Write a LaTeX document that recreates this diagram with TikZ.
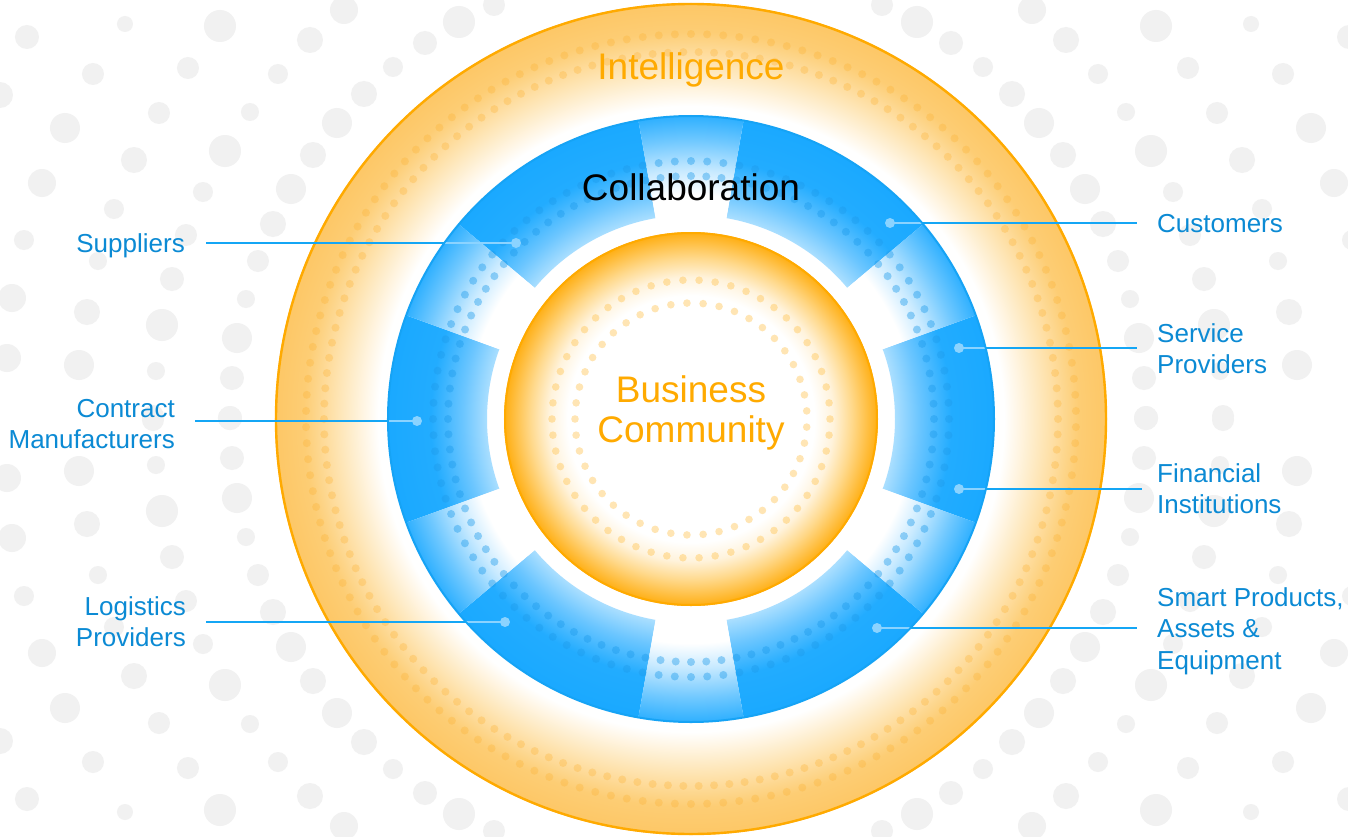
\documentclass[tikz,border=0pt]{standalone}
\usepackage{fontspec}
\setmainfont{Liberation Sans}
\definecolor{bgdot}{HTML}{F1F1F1}
\definecolor{ringor}{HTML}{FDC766}
\definecolor{ringor2}{HTML}{FDCD74}
\definecolor{ringpale}{HTML}{FEE4B2}
\definecolor{orline}{HTML}{FFAA00}
\definecolor{inor}{HTML}{FFAE12}
\definecolor{inmid}{HTML}{FFD98C}
\definecolor{inpale}{HTML}{FFF3DC}
\definecolor{bdark}{HTML}{1AA9FF}
\definecolor{bdark2}{HTML}{22ACFF}
\definecolor{bmid}{HTML}{6CC6FF}
\definecolor{blight}{HTML}{ABDFFF}
\definecolor{lout}{HTML}{2FB0FF}
\definecolor{lmid}{HTML}{6FC8FF}
\definecolor{lpale}{HTML}{C8EAFF}
\definecolor{bline}{HTML}{16A3F5}
\definecolor{bluedotc}{HTML}{1E9BEB}
\definecolor{ordotc}{HTML}{FBB030}
\definecolor{indotc}{HTML}{FFC045}
\definecolor{labelc}{HTML}{0B8AD4}
\definecolor{connc}{HTML}{14A6F5}
\definecolor{connl}{HTML}{8BD3FF}
\definecolor{txtor}{HTML}{FFAA00}
\pgfdeclareradialshading{outerring}{\pgfpoint{0bp}{0bp}}{color(0bp)=(white); color(18.8bp)=(white); color(21.3bp)=(ringpale); color(23.3bp)=(ringor2); color(25bp)=(ringor); color(50bp)=(ringor)}
\pgfdeclareradialshading{innerdisk}{\pgfpoint{0bp}{0bp}}{color(0bp)=(white); color(16.5bp)=(white); color(19bp)=(inpale); color(21.5bp)=(inmid); color(25bp)=(inor); color(50bp)=(inor)}
\pgfdeclareradialshading{bluedark}{\pgfpoint{0bp}{0bp}}{color(0bp)=(blight); color(16.8bp)=(blight); color(18.8bp)=(bmid); color(21.5bp)=(bdark2); color(25bp)=(bdark); color(50bp)=(bdark)}
\pgfdeclareradialshading{bluelight}{\pgfpoint{0bp}{0bp}}{color(0bp)=(white); color(18.5bp)=(white); color(20.5bp)=(lpale); color(23bp)=(lmid); color(25bp)=(lout); color(50bp)=(lout)}
\tikzset{
  lab/.style={text=labelc, font=\fontsize{26}{31.5}\selectfont, inner sep=0pt},
  bigtext/.style={font=\fontsize{37}{40}\selectfont, inner sep=0pt},
  enddot/.style={circle, fill=connl, inner sep=0pt, minimum size=10pt},
  conn/.style={draw=connc, line width=2.2pt},
  connin/.style={draw=connl, line width=2.2pt},
  bluedot/.style={fill=bluedotc, fill opacity=0.42},
  ordot/.style={fill=ordotc, fill opacity=0.3},
  indot/.style={fill=indotc, fill opacity=0.4},
}
\begin{document}
\begin{tikzpicture}[x=1pt,y=1pt]
\fill[white] (-691,-417) rectangle (657,419);
\useasboundingbox (-691,-417) rectangle (657,419);
% background dots (mirrored pattern)
\foreach \px/\py/\r in {27/37/12, 125/24/8, 220/26/16, 344/10/14, 459/22/16, 494/5/11, 310/40/13, 425/43/12, 0/95/13, 93/74/11, 188/68/11, 278/74/10, 393/67/10, 364/94/13, 65/128/15, 159/113/11, 250/112/9, 337/123/15, 134/160/13, 225/151/16, 313/155/13, 42/183/14, 203/192/10, 291/189/15, 114/209/10, 273/224/13, 24/240/10, 186/235/11, 98/261/9, 258/261/11, 172/279/12, 12/298/14, 246/299/9, 87/312/13, 162/325/16, 237/338/15, 7/358/14, 79/365/15, 156/371/9, 232/378/12, 230/418/12, 153/420/11} {
  \fill[bgdot] ({\px-691},{419-\py}) circle[radius=\r pt];
  \fill[bgdot] ({685-\px},{419-\py}) circle[radius=\r pt];
  \fill[bgdot] ({\px-691},{\py-417}) circle[radius=\r pt];
  \fill[bgdot] ({685-\px},{\py-417}) circle[radius=\r pt];
}
% outer intelligence ring
\shade[shading=outerring] (0,0) circle[radius=416pt];
\draw[orline, line width=2.4pt] (0,0) circle[radius=415pt];
\foreach \a in {0,2.4,...,357.7} {
  \fill[ordot] (\a:367pt) circle[radius=4pt];
  \fill[ordot] ({\a+1.2}:385pt) circle[radius=4pt];
}
% blue collaboration ring: dark segments
\foreach \s in {100,160,220,280,340,40} {
  \begin{scope}
    \clip (\s:204pt) arc[start angle=\s, end angle=\s+40, radius=204pt] -- ({\s+40}:303pt) arc[start angle=\s+40, end angle=\s, radius=303pt] -- cycle;
    \shade[shading=bluedark] (0,0) circle[radius=303pt];
  \end{scope}
}
% light segments
\foreach \s in {80,140,200,260,320,20} {
  \begin{scope}
    \clip (\s:204pt) arc[start angle=\s, end angle=\s+20, radius=204pt] -- ({\s+20}:303pt) arc[start angle=\s+20, end angle=\s, radius=303pt] -- cycle;
    \shade[shading=bluelight] (0,0) circle[radius=303pt];
  \end{scope}
}
\draw[bline, line width=2pt] (0,0) circle[radius=303pt];
\foreach \a in {0,3.6,...,356.5} {
  \fill[bluedot] (\a:243pt) circle[radius=4pt];
  \fill[bluedot] (\a:258pt) circle[radius=4pt];
}
% inner business community disk
\shade[shading=innerdisk] (0,0) circle[radius=187pt];
\draw[orline, line width=2pt] (0,0) circle[radius=186pt];
\foreach \i in {0,...,53} { \fill[indot] ({\i*6.6667}:139pt) circle[radius=3.8pt]; }
\foreach \i in {0,...,44} { \fill[indot] ({\i*8+4}:116pt) circle[radius=3.8pt]; }
% titles
\node[bigtext, text=txtor, anchor=base] (intel) at (0,339) {Intelligence};
\node[bigtext, text=black, anchor=base] (collab) at (0,219) {Collaboration};
\node[bigtext, text=txtor, anchor=base] (bizcom) at (0,17) {\begin{tabular}[t]{@{}c@{}}Business\\Community\end{tabular}};
% labels
\node[lab, anchor=base east] (lSup) at (-506,167) {Suppliers};
\node[lab, anchor=base east] (lCon) at (-516,2) {\begin{tabular}[t]{@{}r@{}}Contract\\Manufacturers\end{tabular}};
\node[lab, anchor=base east] (lLog) at (-505,-196) {\begin{tabular}[t]{@{}r@{}}Logistics\\Providers\end{tabular}};
\node[lab, anchor=base west] (lCus) at (466,187) {Customers};
\node[lab, anchor=base west] (lSer) at (466,77) {\begin{tabular}[t]{@{}l@{}}Service\\Providers\end{tabular}};
\node[lab, anchor=base west] (lFin) at (466,-63) {\begin{tabular}[t]{@{}l@{}}Financial\\Institutions\end{tabular}};
\node[lab, anchor=base west] (lSma) at (466,-187) {\begin{tabular}[t]{@{}l@{}}Smart Products,\\Assets \&\\Equipment\end{tabular}};
% connector ends
\coordinate (eSup) at (-485,176);
\coordinate (eCon) at (-496,-2);
\coordinate (eLog) at (-485,-203);
\coordinate (eCus) at (446,196);
\coordinate (eSer) at (446,71);
\coordinate (eFin) at (451,-70);
\coordinate (eSma) at (446,-209);
\coordinate (pSup) at (-175,176);
\coordinate (pCon) at (-274,-2);
\coordinate (pLog) at (-186,-203);
\coordinate (pCus) at (199,196);
\coordinate (pSer) at (268,71);
\coordinate (pFin) at (268,-70);
\coordinate (pSma) at (186,-209);
\foreach \n in {Sup,Con,Log,Cus,Ser,Fin,Sma} { \draw[conn] (p\n) -- (e\n); }
\begin{scope}
  \clip (0,0) circle[radius=302pt];
  \foreach \n in {Sup,Con,Log,Cus,Ser,Fin,Sma} { \draw[connin] (p\n) -- (e\n); }
\end{scope}
\node[enddot] (dSup) at (pSup) {};
\node[enddot] (dCon) at (pCon) {};
\node[enddot] (dLog) at (pLog) {};
\node[enddot] (dCus) at (pCus) {};
\node[enddot] (dSer) at (pSer) {};
\node[enddot] (dFin) at (pFin) {};
\node[enddot] (dSma) at (pSma) {};
\end{tikzpicture}
\end{document}
